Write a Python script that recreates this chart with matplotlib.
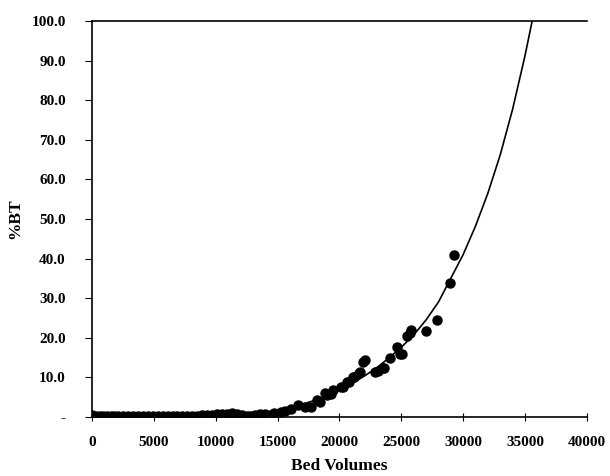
import matplotlib
matplotlib.use("Agg")
import matplotlib.pyplot as plt
from matplotlib.ticker import FuncFormatter

# ---------------------------------------------------------------------------
# Data
# ---------------------------------------------------------------------------
# measured breakthrough (%BT) vs bed volumes
bed_volumes = [
    0, 300, 600, 900, 1200, 1500, 1800, 2100, 2500, 2900, 3300, 3700,
    4100, 4500, 4900, 5300, 5700, 6100, 6500, 6900, 7300, 7700, 8100,
    8500, 8900, 9300, 9700, 10100, 10500, 10900, 11300, 11700, 12100,
    12500, 12800, 13200, 13600, 14000, 14700, 15250, 15600, 16060,
    16650, 17200, 17680, 18220, 18430, 18840, 18980, 19300, 19510,
    20110, 20250, 20590, 20790, 21130, 21200, 21600, 21680, 21940,
    22060, 22880, 23090, 23550, 23630, 24100, 24630, 24900, 25060,
    25500, 25710, 25800, 26980, 27900, 28950, 29250,
]
pct_bt = [
    0.4, 0.3, 0.3, 0.2, 0.3, 0.2, 0.3, 0.2, 0.2, 0.3, 0.2, 0.2,
    0.3, 0.2, 0.3, 0.2, 0.3, 0.2, 0.2, 0.3, 0.3, 0.2, 0.3,
    0.3, 0.4, 0.5, 0.6, 0.7, 0.8, 0.8, 0.9, 0.7, 0.4,
    0.3, 0.3, 0.5, 0.7, 0.8, 0.9, 1.3, 1.5, 1.9,
    3.0, 2.4, 2.6, 4.3, 3.9, 6.0, 5.5, 5.9, 6.8,
    7.6, 7.6, 8.9, 8.9, 10.2, 10.2, 11.0, 11.4, 13.9,
    14.3, 11.4, 11.7, 12.3, 12.3, 14.8, 17.7, 16.0, 16.0,
    20.4, 21.1, 21.9, 21.7, 24.6, 33.8, 41.0,
]

# fitted curve, values
fit_bv = [
    0, 4000, 8000, 10000, 11000, 12000, 13000, 14000, 15000, 16000,
    17000, 18000, 19000, 20000, 21000, 22000, 23000, 24000, 25000,
    26000, 27000, 28000, 29000, 30000, 31000, 32000, 33000, 34000,
    35000, 35600,
]
fit_bt = [
    0.0, 0.0, 0.15, 0.3, 0.5, 0.7, 1.0, 1.3, 1.7, 2.4,
    3.2, 4.2, 5.4, 6.9, 8.5, 10.3, 12.4, 14.9, 17.6,
    20.7, 24.5, 29.0, 35.0, 41.0, 48.2, 56.5, 66.2, 77.7,
    91.2, 100.3,
]

FONT = ["Liberation Serif", "DejaVu Serif"]


def ytick_fmt(v, pos):
    # Excel accounting style: zero shown as a dash
    return "-" if abs(v) < 1e-9 else f"{v:.1f}"


fig = plt.figure(figsize=(6.10, 4.76), dpi=100)
ax = fig.add_axes([0.151, 0.124, 0.811, 0.832])

ax.plot(fit_bv, fit_bt, color="black", linewidth=1.2, zorder=2)
ax.plot(bed_volumes, pct_bt, "o", color="black", markersize=6.5, zorder=3)

ax.set_xlim(0, 40000)
ax.set_ylim(0, 100)
ax.set_xticks(range(0, 40001, 5000))
ax.set_yticks(range(0, 101, 10))
ax.yaxis.set_major_formatter(FuncFormatter(ytick_fmt))

ax.spines["right"].set_visible(False)
for side in ("left", "bottom", "top"):
    ax.spines[side].set_linewidth(1.2)

ax.tick_params(axis="x", direction="inout", length=6, width=0.8, pad=11)
ax.tick_params(axis="y", direction="out", length=5, width=0.8, pad=14)
for lab in ax.get_xticklabels() + ax.get_yticklabels():
    lab.set_fontfamily(FONT)
    lab.set_fontweight("bold")
    lab.set_fontsize(11)

ax.set_xlabel("Bed Volumes", fontfamily=FONT, fontweight="bold", fontsize=12.5, labelpad=6)
ax.set_ylabel("%BT", fontfamily=FONT, fontweight="bold", fontsize=12.5, labelpad=6)

fig.savefig("out.png", dpi=100)
